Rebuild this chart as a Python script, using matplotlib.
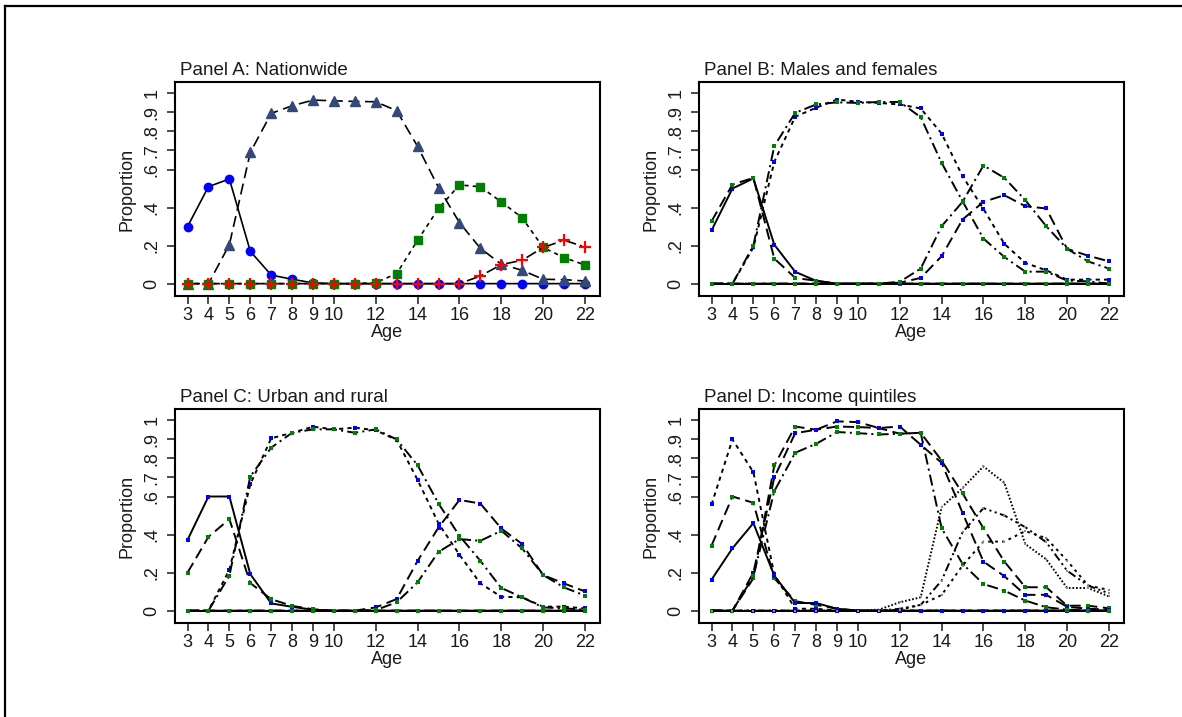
import matplotlib
matplotlib.use("Agg")
import matplotlib.pyplot as plt
from matplotlib.lines import Line2D

plt.rcParams['font.family'] = ['Liberation Sans', 'DejaVu Sans']
plt.rcParams['lines.scale_dashes'] = False

ages = [3, 4, 5, 6, 7, 8, 9, 10, 11, 12, 13, 14, 15, 16, 17, 18, 19, 20, 21, 22]
xticks = [3, 4, 5, 6, 7, 8, 9, 10, 12, 14, 16, 18, 20, 22]
yticks = [0, 0.2, 0.4, 0.6, 0.7, 0.8, 0.9, 1.0]
ytick_labels = ['0', '.2', '.4', '.6', '.7', '.8', '.9', '1']
titles = ['Panel A: Nationwide', 'Panel B: Males and females',
          'Panel C: Urban and rural', 'Panel D: Income quintiles']

# Panel A: nationwide
a_circle = [0.30, 0.51, 0.55, 0.17, 0.045, 0.023, 0.004, 0, 0, 0, 0, 0, 0, 0, 0, 0, 0, 0, 0, 0]
a_triangle = [0, 0, 0.205, 0.69, 0.895, 0.935, 0.965, 0.961, 0.958, 0.956, 0.909, 0.721,
              0.505, 0.321, 0.186, 0.102, 0.070, 0.023, 0.021, 0.014]
a_square = [0, 0, 0, 0, 0, 0, 0, 0, 0, 0.005, 0.053, 0.228, 0.395, 0.519, 0.509, 0.43,
            0.346, 0.19, 0.137, 0.098]
a_plus = [0, 0, 0, 0, 0, 0, 0, 0, 0, 0, 0, 0, 0, 0, 0.04, 0.10, 0.123, 0.19, 0.228, 0.193]

# Panel B: males (blue) and females (green)
b_pre_m = [0.28, 0.50, 0.553, 0.205, 0.062, 0.015, 0, 0, 0, 0, 0, 0, 0, 0, 0, 0, 0, 0, 0, 0]
b_pre_f = [0.328, 0.521, 0.556, 0.132, 0.03, 0.015, 0, 0, 0, 0, 0, 0, 0, 0, 0, 0, 0, 0, 0, 0]
b_pri_m = [0, 0, 0.19, 0.64, 0.877, 0.925, 0.968, 0.956, 0.95, 0.942, 0.921, 0.789, 0.565,
           0.393, 0.209, 0.109, 0.07, 0.021, 0.021, 0.021]
b_pri_f = [0, 0, 0.2, 0.723, 0.898, 0.942, 0.953, 0.95, 0.955, 0.955, 0.875, 0.635, 0.433,
           0.237, 0.14, 0.063, 0.063, 0.016, 0.012, 0.0]
b_sec_m = [0, 0, 0, 0, 0, 0, 0, 0, 0, 0.005, 0.03, 0.144, 0.337, 0.43, 0.465, 0.407, 0.395,
           0.183, 0.147, 0.117]
b_sec_f = [0, 0, 0, 0, 0, 0, 0, 0, 0, 0.01, 0.079, 0.302, 0.43, 0.621, 0.556, 0.439, 0.302,
           0.183, 0.117, 0.079]
b_ter = [0, 0, 0, 0, 0, 0, 0, 0, 0, 0, 0, 0, 0, 0, 0, 0, 0, 0, 0, 0]

# Panel C: urban (blue) and rural (green)
c_pre_u = [0.372, 0.6, 0.6, 0.192, 0.038, 0.02, 0.005, 0, 0, 0, 0, 0, 0, 0, 0, 0, 0, 0, 0, 0]
c_pre_r = [0.2, 0.388, 0.481, 0.145, 0.06, 0.025, 0.007, 0, 0, 0, 0, 0, 0, 0, 0, 0, 0, 0, 0, 0]
c_pri_u = [0, 0, 0.215, 0.664, 0.906, 0.935, 0.967, 0.953, 0.962, 0.948, 0.897, 0.687, 0.458,
           0.294, 0.143, 0.073, 0.07, 0.021, 0.021, 0.012]
c_pri_r = [0, 0, 0.184, 0.705, 0.857, 0.935, 0.953, 0.953, 0.935, 0.953, 0.9, 0.764, 0.563,
           0.393, 0.262, 0.119, 0.07, 0.017, 0.012, 0.005]
c_sec_u = [0, 0, 0, 0, 0, 0, 0, 0, 0, 0.017, 0.061, 0.262, 0.437, 0.582, 0.563, 0.432, 0.35,
           0.187, 0.143, 0.101]
c_sec_r = [0, 0, 0, 0, 0, 0, 0, 0, 0, 0.003, 0.044, 0.149, 0.309, 0.376, 0.367, 0.42, 0.327,
           0.187, 0.122, 0.079]
c_ter = [0, 0, 0, 0, 0, 0, 0, 0, 0, 0, 0, 0, 0, 0, 0, 0, 0, 0, 0, 0]

# Panel D: income quintiles
d_pre1 = [0.558, 0.90, 0.728, 0.19, 0.01, 0.01, 0, 0, 0, 0, 0, 0, 0, 0, 0, 0, 0, 0, 0, 0]
d_pre2 = [0.342, 0.60, 0.567, 0.17, 0.05, 0.03, 0.01, 0, 0, 0, 0, 0, 0, 0, 0, 0, 0, 0, 0, 0]
d_pre3 = [0.163, 0.328, 0.46, 0.184, 0.04, 0.04, 0.01, 0, 0, 0, 0, 0, 0, 0, 0, 0, 0, 0, 0, 0]
d_zero = [0, 0, 0, 0, 0, 0, 0, 0, 0, 0, 0, 0, 0, 0, 0, 0, 0, 0, 0, 0]
d_pri1 = [0, 0, 0.17, 0.763, 0.968, 0.951, 0.968, 0.965, 0.96, 0.93, 0.935, 0.789, 0.617,
          0.433, 0.258, 0.123, 0.123, 0.026, 0.026, 0.012]
d_pri2 = [0, 0, 0.2, 0.70, 0.933, 0.951, 0.995, 0.991, 0.96, 0.968, 0.872, 0.777, 0.514,
          0.258, 0.181, 0.083, 0.083, 0.02, 0.01, 0.005]
d_pri3 = [0, 0, 0.18, 0.628, 0.83, 0.877, 0.939, 0.933, 0.926, 0.93, 0.935, 0.433, 0.246,
          0.14, 0.105, 0.053, 0.018, 0.005, 0, 0]
d_sec1 = [0, 0, 0, 0, 0, 0, 0, 0, 0.005, 0.044, 0.07, 0.544, 0.644, 0.758, 0.672, 0.35,
          0.27, 0.119, 0.119, 0.075]
d_sec2 = [0, 0, 0, 0, 0, 0, 0, 0, 0, 0.01, 0.03, 0.158, 0.412, 0.539, 0.5, 0.439, 0.36,
          0.21, 0.132, 0.091]
d_sec3 = [0, 0, 0, 0, 0, 0, 0, 0, 0, 0.005, 0.03, 0.082, 0.237, 0.363, 0.363, 0.418, 0.381,
          0.263, 0.132, 0.109]

SOLID = '-'
LONGDASH = (0, (8, 4))
SHORTDASH = (0, (3, 3))
DASHDOT = (0, (8, 3, 1.5, 3))
DASHDOT2 = (0, (6, 2.5, 1.5, 2.5, 1.5, 2.5))
DOTTED = (0, (1.2, 1.4))
SPDOT = (0, (2, 3))
BLUE = '#0000ff'
GREEN = '#008000'
GRAY = '#8c8c8c'
FS = 13


def style_axes(ax, title):
    ax.set_xlim(2.4, 22.72)
    ax.set_ylim(-0.065, 1.06)
    ax.set_xticks(xticks)
    ax.set_xticklabels([str(t) for t in xticks])
    ax.set_yticks(yticks)
    ax.set_yticklabels(ytick_labels, rotation=90, va='center')
    ax.tick_params(direction='out', length=5.5, width=1.1, labelsize=FS,
                   colors='#1a1a1a')
    ax.tick_params(axis='x', pad=2.5)
    ax.tick_params(axis='y', pad=5)
    for s in ax.spines.values():
        s.set_linewidth(1.5)
    ax.set_xlabel('Age', fontsize=FS, labelpad=0, color='#1a1a1a')
    ax.set_ylabel('Proportion', fontsize=FS, labelpad=6, color='#1a1a1a')
    ax.text(0.012, 1.035, title, transform=ax.transAxes, fontsize=FS + 0.5,
            va='baseline', ha='left', color='#1a1a1a')


def thin(ax, y, ls, color, ms=2.2):
    ax.plot(ages, y, color='black', linestyle=ls, linewidth=1.4, marker='s',
            markersize=ms, markerfacecolor=color, markeredgecolor=color,
            markeredgewidth=0)


fig = plt.figure(figsize=(11.82, 7.17), dpi=100)
w, h = 425 / 1182, 214 / 717
axA = fig.add_axes([175 / 1182, 1 - 296 / 717, w, h])
axB = fig.add_axes([699 / 1182, 1 - 296 / 717, w, h])
axC = fig.add_axes([175 / 1182, 1 - 623 / 717, w, h])
axD = fig.add_axes([699 / 1182, 1 - 623 / 717, w, h])

# Panel A
axA.plot(ages, a_circle, color='black', linewidth=1.2, marker='o', markersize=6,
         markerfacecolor=BLUE, markeredgecolor=BLUE)
axA.plot(ages, a_triangle, color='black', linewidth=1.2, linestyle=LONGDASH, marker='^',
         markersize=7, markerfacecolor='#34497a', markeredgecolor='#34497a')
axA.plot(ages, a_square, color='black', linewidth=1.2, linestyle=SHORTDASH, marker='s',
         markersize=5.5, markerfacecolor=GREEN, markeredgecolor=GREEN)
axA.plot(ages, a_plus, color='black', linewidth=1.2, linestyle=DASHDOT, marker='+',
         markersize=9, markeredgewidth=1.6, markeredgecolor='#ff0000')

# Panel B
thin(axB, b_ter, SOLID, GREEN)
thin(axB, b_ter, SOLID, BLUE)
thin(axB, b_pre_m, SOLID, BLUE)
thin(axB, b_pre_f, LONGDASH, GREEN)
thin(axB, b_pri_m, SHORTDASH, BLUE)
thin(axB, b_pri_f, DASHDOT, GREEN)
thin(axB, b_sec_m, LONGDASH, BLUE)
thin(axB, b_sec_f, DASHDOT, GREEN)

# Panel C
thin(axC, c_ter, SOLID, GREEN)
thin(axC, c_ter, SOLID, BLUE)
thin(axC, c_pre_u, SOLID, BLUE)
thin(axC, c_pre_r, LONGDASH, GREEN)
thin(axC, c_pri_u, SHORTDASH, BLUE)
thin(axC, c_pri_r, DASHDOT, GREEN)
thin(axC, c_sec_u, LONGDASH, BLUE)
thin(axC, c_sec_r, DASHDOT, GREEN)

# Panel D
thin(axD, d_zero, SOLID, BLUE)
thin(axD, d_zero, DOTTED, GRAY, 1.6)
thin(axD, d_pre1, SHORTDASH, BLUE)
thin(axD, d_pre2, LONGDASH, GREEN)
thin(axD, d_pre3, SOLID, BLUE)
thin(axD, d_pri1, LONGDASH, GREEN)
thin(axD, d_pri2, LONGDASH, BLUE)
thin(axD, d_pri3, DASHDOT, GREEN)
thin(axD, d_sec1, DOTTED, GRAY, 1.6)
thin(axD, d_sec2, DASHDOT2, GRAY, 1.6)
thin(axD, d_sec3, SPDOT, GRAY, 1.6)

for ax, t in zip([axA, axB, axC, axD], titles):
    style_axes(ax, t)

# outer frame, only top and left edges show
fig.add_artist(Line2D([5 / 1182, 5 / 1182], [0, 1 - 6 / 717], color='black', linewidth=1.6))
fig.add_artist(Line2D([5 / 1182, 1], [1 - 6 / 717, 1 - 6 / 717], color='black', linewidth=1.6))

fig.savefig('out.png', dpi=100)
